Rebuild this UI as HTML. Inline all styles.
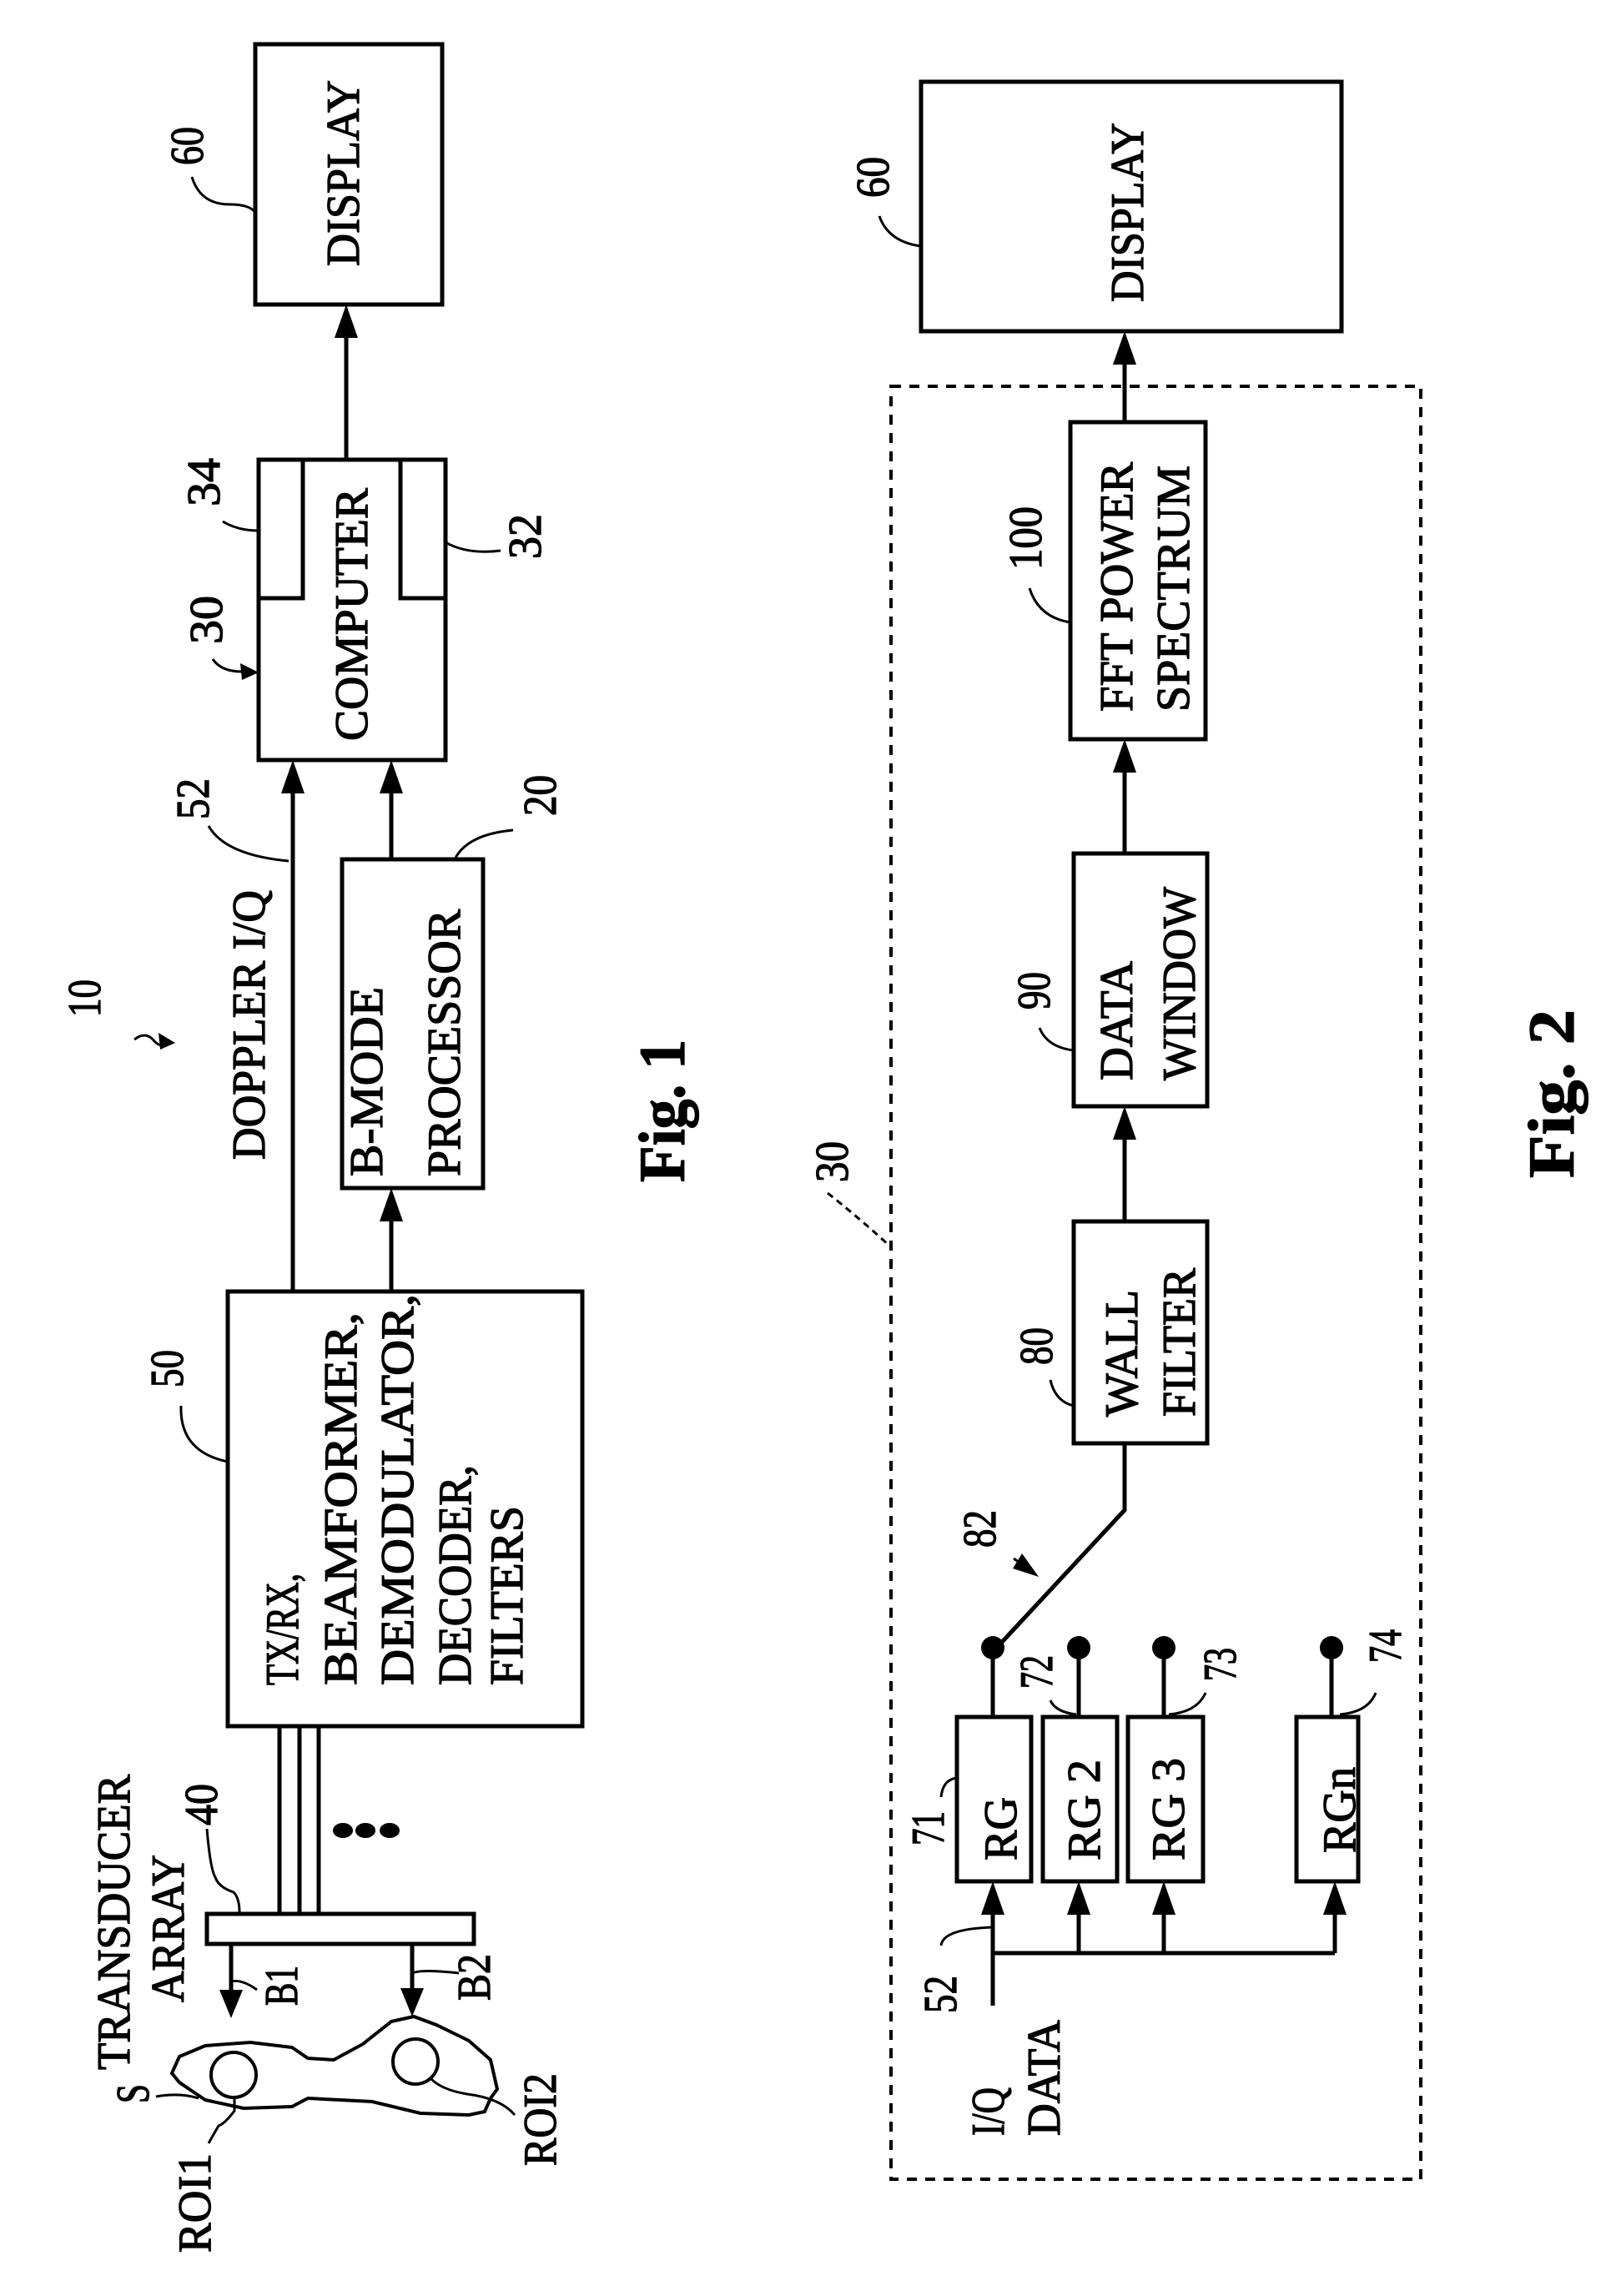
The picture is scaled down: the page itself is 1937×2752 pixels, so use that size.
<!DOCTYPE html>
<html><head><meta charset="utf-8"><style>
html,body{margin:0;padding:0;background:#fff}
svg{display:block}
text{font-family:"Liberation Serif",serif;font-size:56px;fill:#000;stroke:#000;stroke-width:1.3px}
.b{font-weight:bold;font-size:78px}
</style></head><body>
<svg width="1937" height="2752" viewBox="0 0 1937 2752" xmlns="http://www.w3.org/2000/svg">
<g fill="none" stroke="#000" stroke-width="5">
<rect x="306" y="53" width="224" height="312"/>
<rect x="310" y="551" width="224" height="360"/>
<polyline points="310,717 363,717 363,551"/>
<polyline points="534,717 480,717 480,551"/>
<rect x="410" y="1030" width="169" height="394"/>
<rect x="273" y="1548" width="425" height="521"/>
<rect x="248" y="2294" width="320" height="36"/>
<line x1="415" y1="551" x2="415" y2="400"/>
<line x1="351" y1="1548" x2="351" y2="945"/>
<line x1="469" y1="1030" x2="469" y2="945"/>
<line x1="469" y1="1548" x2="469" y2="1458"/>
<line x1="335" y1="2069" x2="335" y2="2294"/>
<line x1="359" y1="2069" x2="359" y2="2294"/>
<line x1="382" y1="2069" x2="382" y2="2294"/>
<line x1="277" y1="2330" x2="277" y2="2390"/>
<line x1="494" y1="2330" x2="494" y2="2388"/>
<path stroke-width="4" d="M206,2485 L215,2465 L246,2452 L300,2448 L350,2454 L369,2467 L400,2469 L435,2450 L469,2423 L496,2417 L523,2427 L562,2446 L588,2469 L596,2504 L588,2515 L581,2531 L562,2535 L504,2533 L446,2519 L369,2515 L350,2525 L292,2527 L246,2517 L215,2496 Z"/>
<circle cx="280" cy="2487" r="27" stroke-width="4"/>
<circle cx="498" cy="2471" r="27" stroke-width="4"/>
<g stroke-width="3">
<path d="M230,212 Q240,245 275,245 Q300,245 306,255"/>
<path d="M267,625 Q285,636 310,636"/>
<path d="M534,650 Q560,665 600,660"/>
<path d="M250,990 Q270,1025 346,1032"/>
<path d="M545,1030 Q560,1000 615,995"/>
<path d="M217,1685 Q215,1740 273,1752"/>
<path d="M248,2192 Q252,2240 258,2250 Q262,2262 280,2268 Q287,2275 287,2292"/>
<path d="M277,2375 Q290,2372 308,2385"/>
<path d="M494,2365 Q505,2360 550,2365"/>
<path d="M187,2513 Q215,2508 238,2515"/>
<path d="M281,2513 L281,2530 Q270,2545 262,2548 Q255,2560 250,2569"/>
<path d="M517,2492 Q530,2505 560,2510 Q600,2515 617,2535"/>
</g>
<rect x="1104" y="98" width="504" height="299"/>
<rect x="1068" y="463" width="635" height="2149" stroke-width="4" stroke-dasharray="12,10"/>
<rect x="1283" y="506" width="162" height="380"/>
<rect x="1287" y="1023" width="160" height="303"/>
<rect x="1287" y="1464" width="160" height="266"/>
<line x1="1348" y1="506" x2="1348" y2="432"/>
<line x1="1348" y1="1023" x2="1348" y2="920"/>
<line x1="1348" y1="1464" x2="1348" y2="1360"/>
<polyline points="1348,1730 1348,1810 1190,1980"/>
<rect x="1147" y="2058" width="89" height="197"/>
<rect x="1250" y="2058" width="89" height="197"/>
<rect x="1352" y="2058" width="90" height="197"/>
<rect x="1554" y="2058" width="74" height="197"/>
<line x1="1190" y1="1980" x2="1190" y2="2058"/>
<line x1="1293" y1="1980" x2="1293" y2="2058"/>
<line x1="1395" y1="1980" x2="1395" y2="2058"/>
<line x1="1596" y1="1980" x2="1596" y2="2058"/>
<line x1="1190" y1="2404" x2="1190" y2="2290"/>
<line x1="1190" y1="2341" x2="1600" y2="2341"/>
<line x1="1293" y1="2341" x2="1293" y2="2290"/>
<line x1="1395" y1="2341" x2="1395" y2="2290"/>
<line x1="1600" y1="2341" x2="1600" y2="2290"/>
<g stroke-width="3">
<path d="M1054,259 Q1065,290 1104,295"/>
<path d="M1234,705 Q1245,740 1283,746"/>
<path d="M1246,1232 Q1255,1255 1287,1259"/>
<path d="M1259,1654 Q1265,1680 1287,1685"/>
<path d="M1128,2154 Q1130,2133 1147,2131"/>
<path d="M1259,2038 Q1265,2052 1290,2055"/>
<path d="M1445,2029 Q1435,2052 1401,2055"/>
<path d="M1649,2029 Q1640,2052 1606,2055"/>
<path d="M1128,2332 Q1130,2312 1190,2310"/>
<path d="M992,1430 Q1030,1460 1066,1493" stroke-dasharray="8,6"/>
<line x1="1215" y1="1868" x2="1232" y2="1880"/>
<path d="M161,1246 Q175,1235 185,1248 Q195,1258 200,1248"/>
<path d="M255,790 Q265,805 290,805"/>
</g>
</g>
<g fill="#000">
<polygon points="415,365 401,405 429,405"/>
<polygon points="351,911 337,951 365,951"/>
<polygon points="469,911 455,951 483,951"/>
<polygon points="469,1424 455,1464 483,1464"/>
<polygon points="277,2419 263,2385 291,2385"/>
<polygon points="494,2417 480,2383 508,2383"/>
<polygon points="1348,397 1334,437 1362,437"/>
<polygon points="1348,886 1334,926 1362,926"/>
<polygon points="1348,1326 1334,1366 1362,1366"/>
<polygon points="1190,2255 1176,2295 1204,2295"/>
<polygon points="1293,2255 1279,2295 1307,2295"/>
<polygon points="1395,2255 1381,2295 1409,2295"/>
<polygon points="1600,2255 1586,2295 1614,2295"/>
<polygon points="1245,1890 1225,1862 1214,1880"/>
<polygon points="210,1250 190,1238 192,1258"/>
<polygon points="310,806 288,795 290,815"/>
<ellipse cx="411" cy="2194" rx="12" ry="9"/>
<ellipse cx="438" cy="2194" rx="12" ry="9"/>
<ellipse cx="467" cy="2194" rx="12" ry="9"/>
<circle cx="1190" cy="1975" r="14"/>
<circle cx="1293" cy="1975" r="14"/>
<circle cx="1395" cy="1975" r="14"/>
<circle cx="1596" cy="1975" r="14"/>
</g>
<g>
<text transform="translate(430,319) rotate(-90)" textLength="223" lengthAdjust="spacingAndGlyphs">DISPLAY</text>
<text transform="translate(243,198) rotate(-90)" textLength="46" lengthAdjust="spacingAndGlyphs">60</text>
<text transform="translate(440,888) rotate(-90)" textLength="303" lengthAdjust="spacingAndGlyphs">COMPUTER</text>
<text transform="translate(263,607) rotate(-90)" textLength="58" lengthAdjust="spacingAndGlyphs">34</text>
<text transform="translate(648,670) rotate(-90)" textLength="54" lengthAdjust="spacingAndGlyphs">32</text>
<text transform="translate(266,772) rotate(-90)" textLength="58" lengthAdjust="spacingAndGlyphs">30</text>
<text transform="translate(250,982) rotate(-90)" textLength="49" lengthAdjust="spacingAndGlyphs">52</text>
<text transform="translate(666,978) rotate(-90)" textLength="49" lengthAdjust="spacingAndGlyphs">20</text>
<text transform="translate(458,1410) rotate(-90)" textLength="227" lengthAdjust="spacingAndGlyphs">B-MODE</text>
<text transform="translate(551,1410) rotate(-90)" textLength="320" lengthAdjust="spacingAndGlyphs">PROCESSOR</text>
<text transform="translate(317,1390) rotate(-90)" textLength="323" lengthAdjust="spacingAndGlyphs">DOPPLER I/Q</text>
<text transform="translate(120,1219) rotate(-90)" textLength="45" lengthAdjust="spacingAndGlyphs">10</text>
<text class="b" transform="translate(820,1417) rotate(-90)" textLength="171" lengthAdjust="spacingAndGlyphs">Fig. 1</text>
<text transform="translate(357,2020) rotate(-90)" textLength="134" lengthAdjust="spacingAndGlyphs">TX/RX,</text>
<text transform="translate(427,2020) rotate(-90)" textLength="447" lengthAdjust="spacingAndGlyphs">BEAMFORMER,</text>
<text transform="translate(495,2020) rotate(-90)" textLength="469" lengthAdjust="spacingAndGlyphs">DEMODULATOR,</text>
<text transform="translate(564,2020) rotate(-90)" textLength="264" lengthAdjust="spacingAndGlyphs">DECODER,</text>
<text transform="translate(626,2020) rotate(-90)" textLength="215" lengthAdjust="spacingAndGlyphs">FILTERS</text>
<text transform="translate(219,1663) rotate(-90)" textLength="45" lengthAdjust="spacingAndGlyphs">50</text>
<text transform="translate(155,2481) rotate(-90)" textLength="354" lengthAdjust="spacingAndGlyphs">TRANSDUCER</text>
<text transform="translate(220,2400) rotate(-90)" textLength="177" lengthAdjust="spacingAndGlyphs">ARRAY</text>
<text transform="translate(260,2188) rotate(-90)" textLength="50" lengthAdjust="spacingAndGlyphs">40</text>
<text transform="translate(356,2404) rotate(-90)" textLength="48" lengthAdjust="spacingAndGlyphs">B1</text>
<text transform="translate(587,2398) rotate(-90)" textLength="56" lengthAdjust="spacingAndGlyphs">B2</text>
<text transform="translate(178,2521) rotate(-90)" textLength="23" lengthAdjust="spacingAndGlyphs">S</text>
<text transform="translate(252,2700) rotate(-90)" textLength="119" lengthAdjust="spacingAndGlyphs">ROI1</text>
<text transform="translate(666,2596) rotate(-90)" textLength="111" lengthAdjust="spacingAndGlyphs">ROI2</text>
<text transform="translate(1065,237) rotate(-90)" textLength="49" lengthAdjust="spacingAndGlyphs">60</text>
<text transform="translate(1370,362) rotate(-90)" textLength="215" lengthAdjust="spacingAndGlyphs">DISPLAY</text>
<text transform="translate(1357,853) rotate(-90)" textLength="299" lengthAdjust="spacingAndGlyphs">FFT POWER</text>
<text transform="translate(1425,853) rotate(-90)" textLength="295" lengthAdjust="spacingAndGlyphs">SPECTRUM</text>
<text transform="translate(1248,683) rotate(-90)" textLength="76" lengthAdjust="spacingAndGlyphs">100</text>
<text transform="translate(1357,1295) rotate(-90)" textLength="143" lengthAdjust="spacingAndGlyphs">DATA</text>
<text transform="translate(1432,1295) rotate(-90)" textLength="232" lengthAdjust="spacingAndGlyphs">WINDOW</text>
<text transform="translate(1258,1210) rotate(-90)" textLength="45" lengthAdjust="spacingAndGlyphs">90</text>
<text class="b" transform="translate(1886,1412) rotate(-90)" textLength="202" lengthAdjust="spacingAndGlyphs">Fig. 2</text>
<text transform="translate(1016,1417) rotate(-90)" textLength="49" lengthAdjust="spacingAndGlyphs">30</text>
<text transform="translate(1363,1698) rotate(-90)" textLength="152" lengthAdjust="spacingAndGlyphs">WALL</text>
<text transform="translate(1432,1698) rotate(-90)" textLength="178" lengthAdjust="spacingAndGlyphs">FILTER</text>
<text transform="translate(1261,1636) rotate(-90)" textLength="45" lengthAdjust="spacingAndGlyphs">80</text>
<text transform="translate(1193,1855) rotate(-90)" textLength="45" lengthAdjust="spacingAndGlyphs">82</text>
<text transform="translate(1218,2230) rotate(-90)" textLength="76" lengthAdjust="spacingAndGlyphs">RG</text>
<text transform="translate(1318,2230) rotate(-90)" textLength="121" lengthAdjust="spacingAndGlyphs">RG 2</text>
<text transform="translate(1419,2230) rotate(-90)" textLength="123" lengthAdjust="spacingAndGlyphs">RG 3</text>
<text transform="translate(1624,2221) rotate(-90)" textLength="103" lengthAdjust="spacingAndGlyphs">RGn</text>
<text transform="translate(1131,2212) rotate(-90)" textLength="41" lengthAdjust="spacingAndGlyphs">71</text>
<text transform="translate(1261,2024) rotate(-90)" textLength="40" lengthAdjust="spacingAndGlyphs">72</text>
<text transform="translate(1481,2015) rotate(-90)" textLength="40" lengthAdjust="spacingAndGlyphs">73</text>
<text transform="translate(1679,1993) rotate(-90)" textLength="40" lengthAdjust="spacingAndGlyphs">74</text>
<text transform="translate(1146,2413) rotate(-90)" textLength="45" lengthAdjust="spacingAndGlyphs">52</text>
<text transform="translate(1203,2560) rotate(-90)" textLength="58" lengthAdjust="spacingAndGlyphs">I/Q</text>
<text transform="translate(1270,2560) rotate(-90)" textLength="139" lengthAdjust="spacingAndGlyphs">DATA</text>
</g>
</svg>
</body></html>
